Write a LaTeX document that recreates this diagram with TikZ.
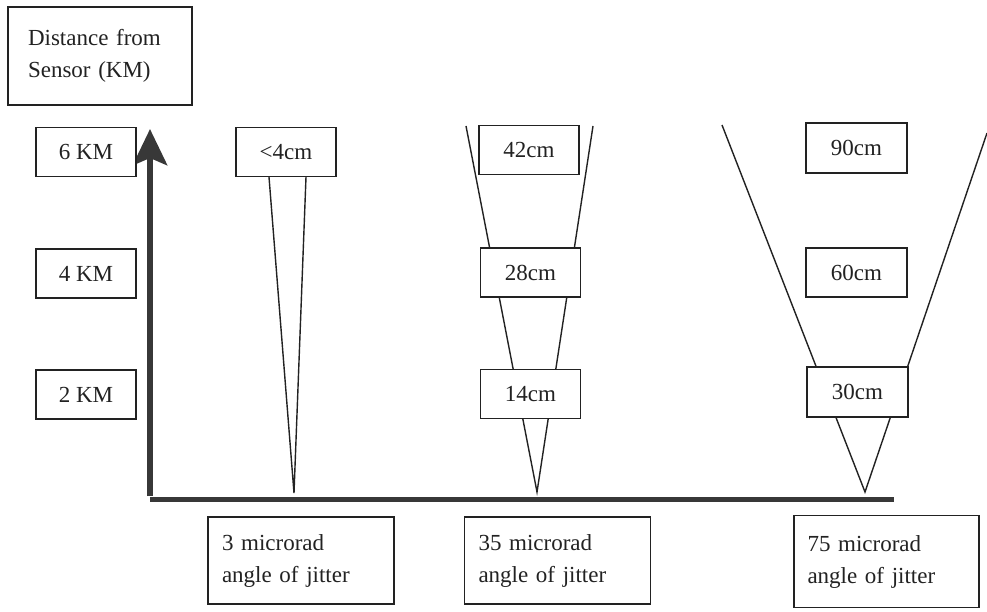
\documentclass[tikz,border=0pt]{standalone}
\usepackage{fontspec}
\setmainfont{Liberation Serif}
\usetikzlibrary{arrows.meta}
\definecolor{ink}{HTML}{222222}
\definecolor{axisgray}{HTML}{383838}
\begin{document}
\begin{tikzpicture}[x=1pt,y=-1pt,
  box/.style={draw=ink, line width=1.5pt, fill=white, inner sep=0pt, text=ink,
              font=\fontsize{23}{32}\selectfont},
  kmbox/.style={box, minimum width=100pt, minimum height=49pt},
  cmbox/.style={box, minimum width=100pt, minimum height=49pt},
  jitbox/.style={box, minimum width=186pt, minimum height=87pt, text width=158pt, align=left},
  cone/.style={draw=ink, line width=1.4pt, line join=miter},
  axisline/.style={draw=axisgray, line width=6.5pt}]
\fill[white] (0,0) rectangle (987,612);
\useasboundingbox (0,0) rectangle (987,612);

% axes
\coordinate (origin) at (150,499);
\coordinate (ytop) at (150,129);
\coordinate (ybot) at (150,496);
\coordinate (xend) at (894,499);
\draw[axisline, -{Stealth[length=36pt,width=34pt,inset=7pt]}] (ybot) -- (ytop);
\draw[draw=axisgray, line width=5pt] (origin) -- (xend);

% cones
\coordinate (c1l) at (269,177);
\coordinate (c1t) at (294,493);
\coordinate (c1r) at (306,177);
\draw[cone] (c1l) -- (c1t) -- (c1r);

\coordinate (c2l) at (466,126);
\coordinate (c2t) at (537,492);
\coordinate (c2r) at (593,126);
\draw[cone] (c2l) -- (c2t) -- (c2r);

\coordinate (c3l) at (722,125);
\coordinate (c3t) at (865,492);
\coordinate (c3r) at (987,133);
\draw[cone] (c3l) -- (c3t) -- (c3r);

% label box
\node[box, minimum width=184pt, minimum height=98pt, text width=144pt, align=left] (dist) at (100,56)
  {Distance from\\Sensor (KM)};

% distance boxes
\node[kmbox] (km6) at (86,152) {6 KM};
\node[kmbox] (km4) at (86,273.5) {4 KM};
\node[kmbox] (km2) at (86,394.5) {2 KM};

% width boxes
\node[cmbox] (a6) at (286,152) {<4cm};
\node[cmbox] (b6) at (529,150) {42cm};
\node[cmbox] (b4) at (530.5,272.5) {28cm};
\node[cmbox] (b2) at (530.5,394) {14cm};
\node[cmbox, minimum width=101pt, minimum height=50pt] (d6) at (856.5,148) {90cm};
\node[cmbox, minimum width=101pt] (d4) at (856.5,272.5) {60cm};
\node[cmbox, minimum width=101pt, minimum height=50pt] (d2) at (857.5,392) {30cm};

% jitter boxes
\node[jitbox] (j1) at (301,560.5) {3 microrad\\angle of jitter};
\node[jitbox] (j2) at (557.5,560.5) {35 microrad\\angle of jitter};
\node[jitbox, minimum width=185pt, minimum height=92pt] (j3) at (886.5,561.5) {75 microrad\\angle of jitter};
\end{tikzpicture}
\end{document}
